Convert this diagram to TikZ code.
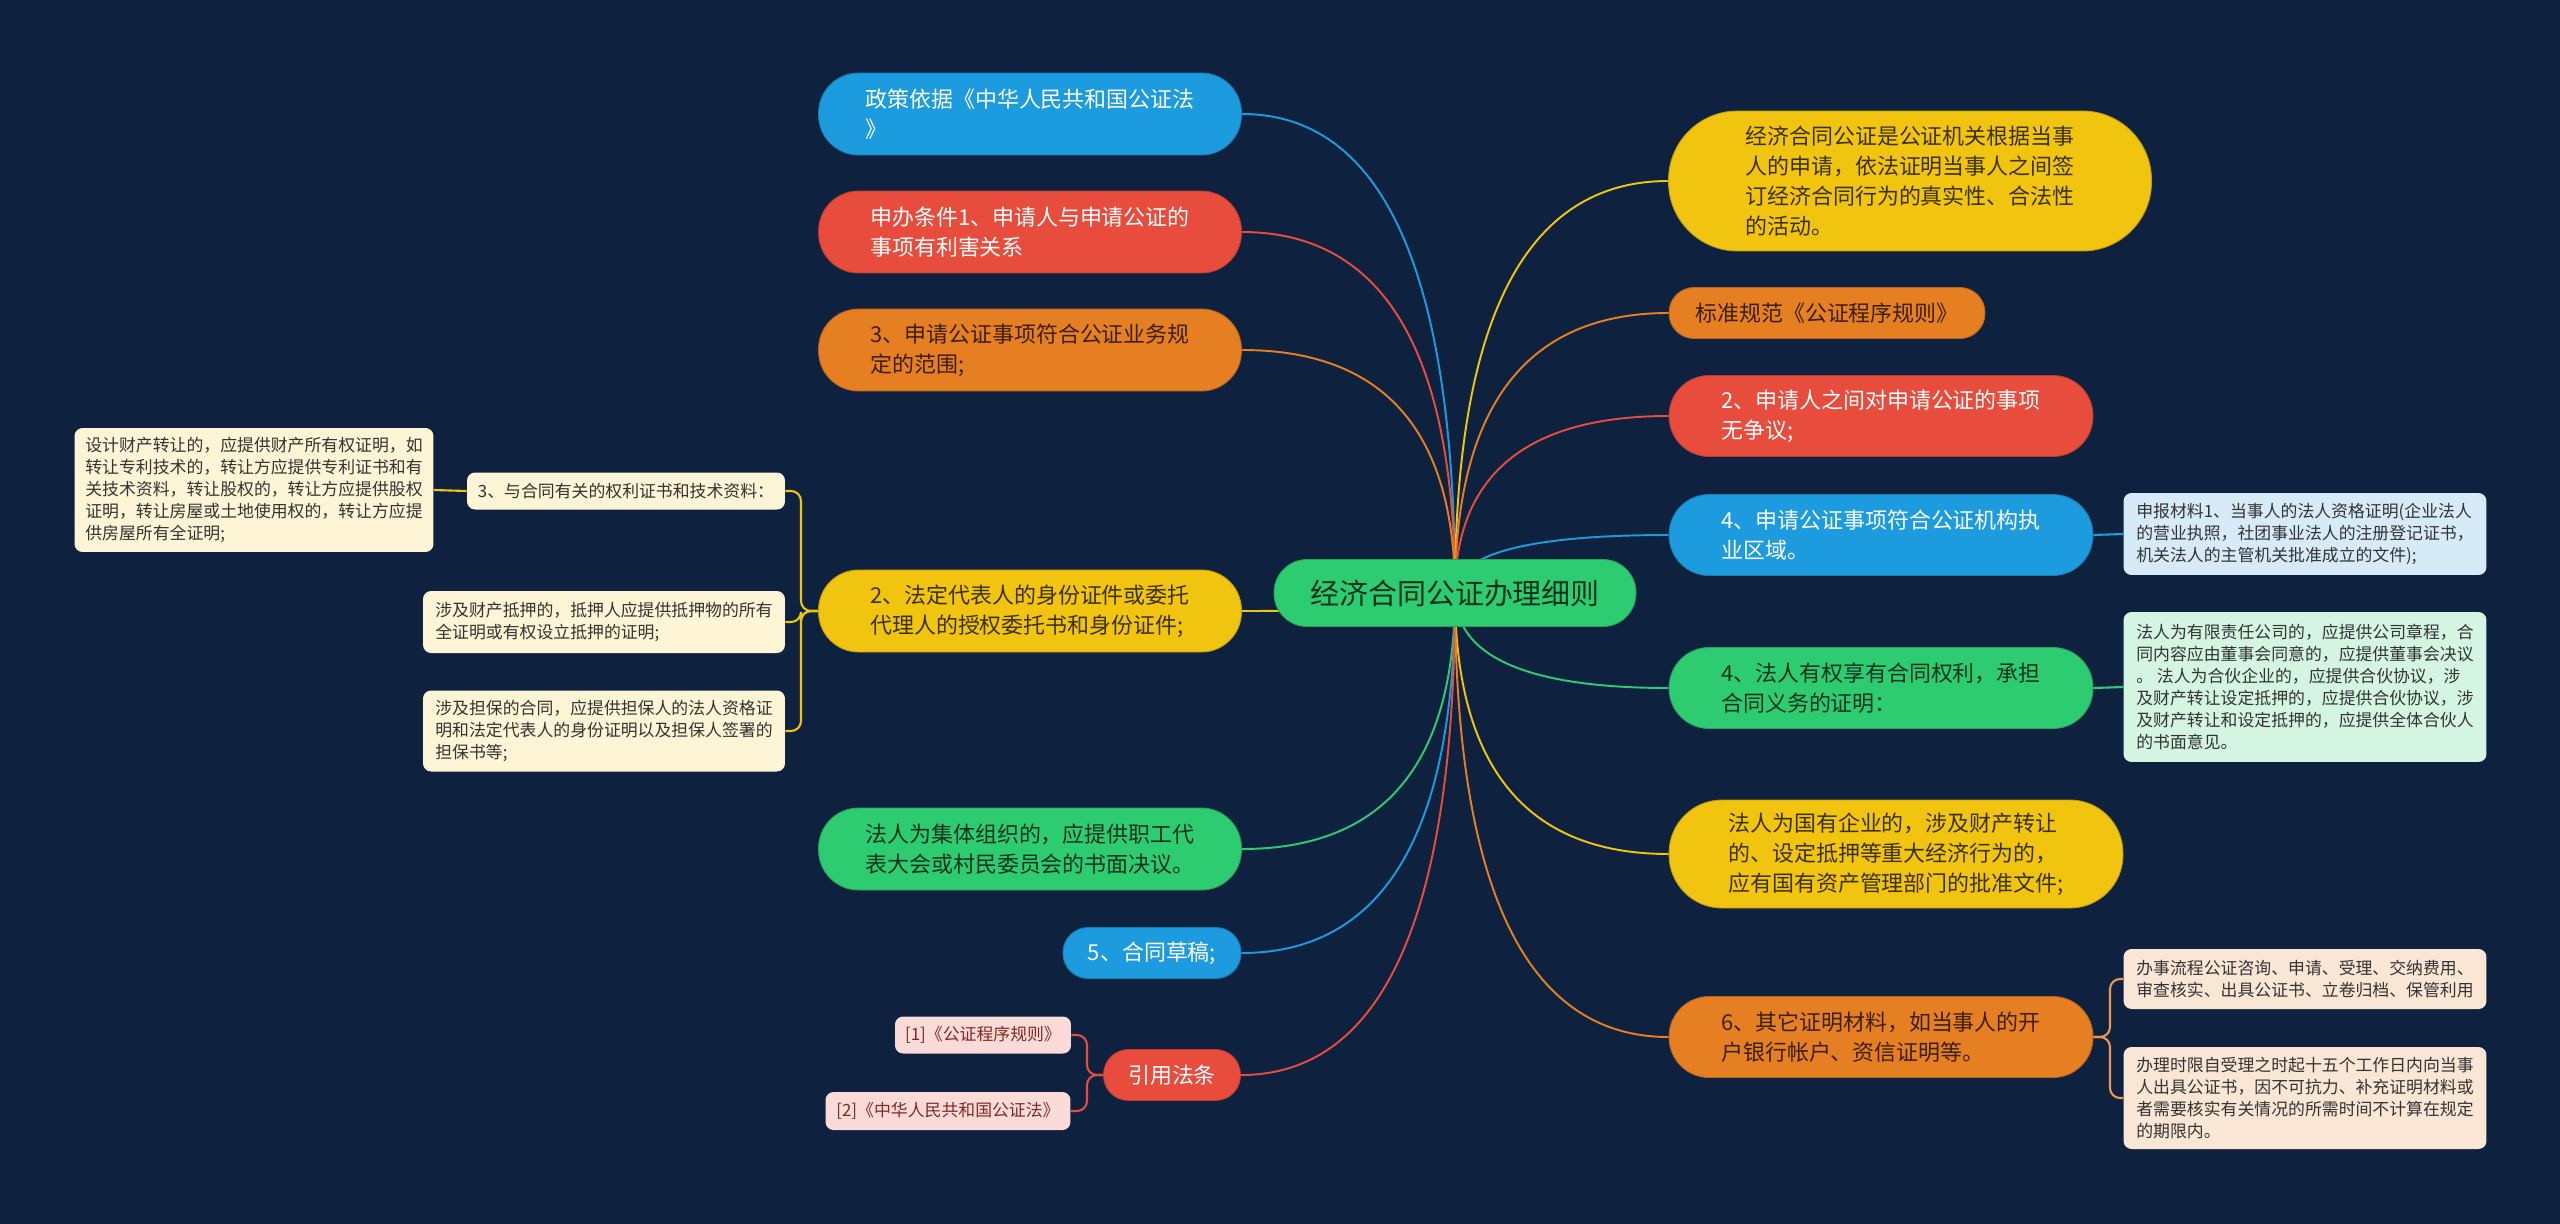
\documentclass[tikz,border=0pt]{standalone}
\usepackage{fontspec}
\setmainfont{Noto Sans CJK SC}
\usepackage{tikz}
\usetikzlibrary{calc,backgrounds}

\definecolor{bgnavy}{HTML}{0E2240}
\definecolor{cblue}{HTML}{1D9BDF}
\definecolor{cred}{HTML}{E74C3C}
\definecolor{corange}{HTML}{E67E22}
\definecolor{cyellow}{HTML}{F1C40F}
\definecolor{cgreen}{HTML}{2ECC71}
\definecolor{pyellow}{HTML}{FDF5D5}
\definecolor{ppink}{HTML}{FADBD8}
\definecolor{pblue}{HTML}{D6EAF8}
\definecolor{pgreen}{HTML}{D5F5E3}
\definecolor{porange}{HTML}{FAE6D5}

\newcommand{\topicfont}{\fontsize{12.5}{17}\selectfont}
\newcommand{\leaffont}{\fontsize{9.6}{12.5}\selectfont}
\newcommand{\rootfont}{\fontsize{16.5}{20}\selectfont}

\tikzset{
  topic/.style={fill=#1, draw=#1!80!black, line width=0.5pt, text=#1!25!black, align=left, inner sep=0pt, font=\topicfont},
  lighttext/.style={text=white},
  leaf/.style={fill=#1, text=black!80, align=left, inner sep=0pt, rounded corners=0.16cm, font=\leaffont},
  branch/.style={draw=#1, line width=1.1pt},
  twig/.style={draw=#1, line width=1.2pt, rounded corners=0.2cm},
}

\begin{document}
\begin{tikzpicture}[x=0.02cm, y=-0.02cm]
        % Root
        \node[topic=cgreen, minimum width=7.24cm, minimum height=1.34cm, rounded corners=0.66cm, font=\rootfont, align=center] (root) at (1455,593) {经济合同公证办理细则};

        % Left topics
        \node[topic=cblue, lighttext, minimum width=8.46cm, minimum height=1.64cm, rounded corners=0.8cm] (pol) at (1030,114) {政策依据《中华人民共和国公证法\\》};
        \node[topic=cred, lighttext, minimum width=8.46cm, minimum height=1.64cm, rounded corners=0.8cm] (cond) at (1030,232) {申办条件1、申请人与申请公证的\\事项有利害关系};
        \node[topic=corange, minimum width=8.46cm, minimum height=1.64cm, rounded corners=0.8cm] (scope) at (1030,350) {3、申请公证事项符合公证业务规\\定的范围;};
        \node[topic=cyellow, minimum width=8.46cm, minimum height=1.64cm, rounded corners=0.8cm] (rep) at (1030,611) {2、法定代表人的身份证件或委托\\代理人的授权委托书和身份证件;};
        \node[topic=cgreen, minimum width=8.46cm, minimum height=1.64cm, rounded corners=0.8cm] (coll) at (1030,849) {法人为集体组织的，应提供职工代\\表大会或村民委员会的书面决议。};
        \node[topic=cblue, lighttext, minimum width=3.56cm, minimum height=1.02cm, rounded corners=0.5cm, align=center] (draft) at (1152,953) {5、合同草稿;};
        \node[topic=cred, lighttext, minimum width=2.74cm, minimum height=1.02cm, rounded corners=0.5cm, align=center] (cite) at (1172,1075) {引用法条};

        % Left leaves
        \node[leaf=pyellow, minimum width=6.36cm, minimum height=0.74cm] (deeds) at (626,491) {3、与合同有关的权利证书和技术资料：};
        \node[leaf=pyellow, minimum width=7.18cm, minimum height=2.48cm] (transfer) at (254,490) {设计财产转让的，应提供财产所有权证明，如\\转让专利技术的，转让方应提供专利证书和有\\关技术资料，转让股权的，转让方应提供股权\\证明，转让房屋或土地使用权的，转让方应提\\供房屋所有全证明;};
        \node[leaf=pyellow, minimum width=7.24cm, minimum height=1.24cm] (mortgage) at (604,622) {涉及财产抵押的，抵押人应提供抵押物的所有\\全证明或有权设立抵押的证明;};
        \node[leaf=pyellow, minimum width=7.24cm, minimum height=1.62cm] (guarantee) at (604,731) {涉及担保的合同，应提供担保人的法人资格证\\明和法定代表人的身份证明以及担保人签署的\\担保书等;};
        \node[leaf=ppink, text=cred!55!black, minimum width=3.52cm, minimum height=0.74cm, align=center] (cite1) at (983,1035) {[1]《公证程序规则》};
        \node[leaf=ppink, text=cred!55!black, minimum width=4.9cm, minimum height=0.76cm, align=center] (cite2) at (948,1111) {[2]《中华人民共和国公证法》};

        % Right topics
        \node[topic=cyellow, minimum width=9.66cm, minimum height=2.8cm, rounded corners=1.38cm] (defn) at (1910,181) {经济合同公证是公证机关根据当事\\人的申请，依法证明当事人之间签\\订经济合同行为的真实性、合法性\\的活动。};
        \node[topic=corange, minimum width=6.32cm, minimum height=1.02cm, rounded corners=0.5cm, align=center] (norm) at (1827,313) {标准规范《公证程序规则》};
        \node[topic=cred, lighttext, minimum width=8.48cm, minimum height=1.62cm, rounded corners=0.8cm] (nodisp) at (1881,416) {2、申请人之间对申请公证的事项\\无争议;};
        \node[topic=cblue, lighttext, minimum width=8.48cm, minimum height=1.62cm, rounded corners=0.8cm] (region) at (1881,535) {4、申请公证事项符合公证机构执\\业区域。};
        \node[topic=cgreen, minimum width=8.48cm, minimum height=1.62cm, rounded corners=0.8cm] (rights) at (1881,688) {4、法人有权享有合同权利，承担\\合同义务的证明：};
        \node[topic=cyellow, minimum width=9.08cm, minimum height=2.16cm, rounded corners=1.06cm] (state) at (1896,854) {法人为国有企业的，涉及财产转让\\的、设定抵押等重大经济行为的，\\应有国有资产管理部门的批准文件;};
        \node[topic=corange, minimum width=8.48cm, minimum height=1.62cm, rounded corners=0.8cm] (other) at (1881,1037) {6、其它证明材料，如当事人的开\\户银行帐户、资信证明等。};

        % Right leaves
        \node[leaf=pblue, minimum width=7.26cm, minimum height=1.64cm] (qual) at (2305,534) {申报材料1、当事人的法人资格证明(企业法人\\的营业执照，社团事业法人的注册登记证书，\\机关法人的主管机关批准成立的文件);};
        \node[leaf=pgreen, minimum width=7.26cm, minimum height=3cm] (ltd) at (2305,687) {法人为有限责任公司的，应提供公司章程，合\\同内容应由董事会同意的，应提供董事会决议\\。 法人为合伙企业的，应提供合伙协议，涉\\及财产转让设定抵押的，应提供合伙协议，涉\\及财产转让和设定抵押的，应提供全体合伙人\\的书面意见。};
        \node[leaf=porange, minimum width=7.26cm, minimum height=1.2cm] (proc) at (2305,979) {办事流程公证咨询、申请、受理、交纳费用、\\审查核实、出具公证书、立卷归档、保管利用};
        \node[leaf=porange, minimum width=7.26cm, minimum height=2.04cm] (limit) at (2305,1098) {办理时限自受理之时起十五个工作日内向当事\\人出具公证书，因不可抗力、补充证明材料或\\者需要核实有关情况的所需时间不计算在规定\\的期限内。};

        % Bracket points
        \coordinate (lb) at (801,611);
        \coordinate (cb) at (1087,1075);
        \coordinate (ob) at (2110,1037);

        \begin{pgfonlayer}{background}
        \fill[bgnavy] (0,0) rectangle (2560,1224);

        % Branches from the root
        \foreach \n/\c/\a in {pol/cblue/east, cond/cred/east, scope/corange/east, rep/cyellow/east, coll/cgreen/east, draft/cblue/east, cite/cred/east, defn/cyellow/west, norm/corange/west, nodisp/cred/west, region/cblue/west, rights/cgreen/west, state/cyellow/west, other/corange/west}
            \draw[branch=\c] (root.center) .. controls ($(root.center)!2/3!(root.center |- \n.\a)$) and ($(\n.\a)!2/3!(root.center |- \n.\a)$) .. (\n.\a);

        % Twigs to leaves
        \foreach \n in {deeds, mortgage, guarantee}
            \draw[twig=cyellow] (rep.west) -- (lb) |- (\n.east);
        \draw[twig=cyellow] (deeds.west) -- (transfer.east);
        \foreach \n in {cite1, cite2}
            \draw[twig=cred] (cite.west) -- (cb) |- (\n.east);
        \draw[twig=cblue] (region.east) -- (qual.west);
        \draw[twig=cgreen] (rights.east) -- (ltd.west);
        \foreach \n in {proc, limit}
            \draw[twig=corange!80!white] (other.east) -- (ob) |- (\n.west);
        \end{pgfonlayer}
\end{tikzpicture}
\end{document}
